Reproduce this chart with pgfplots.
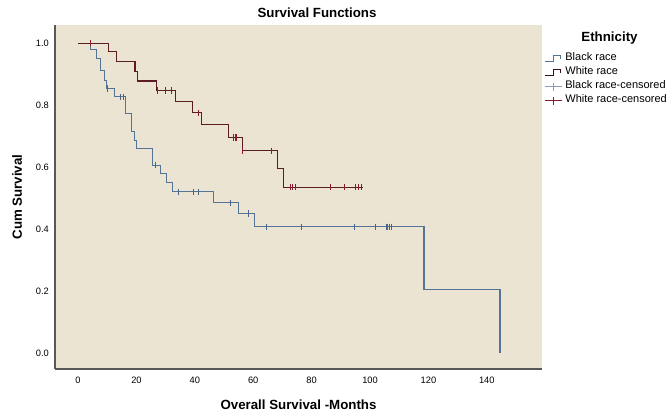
\documentclass[border=0pt]{standalone}
\usepackage{pgfplots}
\pgfplotsset{compat=1.18}
\usepackage{fontspec}
\setmainfont{Liberation Sans}

\definecolor{panel}{RGB}{236,228,211}
\definecolor{blackrace}{RGB}{84,116,150}
\definecolor{blackcens}{RGB}{72,100,138}
\definecolor{whiterace}{RGB}{92,28,36}
\definecolor{whitecens}{RGB}{140,26,46}
\definecolor{spine}{RGB}{88,88,88}

\begin{document}
\begin{tikzpicture}
\path[use as bounding box] (-55pt,-49pt) rectangle (617pt,369pt);
\begin{axis}[
    scale only axis,
    width=487pt, height=344pt,
    xmin=-7.9, xmax=158.9,
    ymin=-0.052, ymax=1.059,
    separate axis lines,
    axis x line*=bottom, axis y line*=left,
    axis line style={-, draw=spine, line width=1.3pt},
    axis background/.style={fill=panel},
    xtick={0,20,40,60,80,100,120,140},
    ytick={0,0.2,0.4,0.6,0.8,1.0},
    major tick length=0pt,
    tick style={draw=none},
    tick label style={font=\fontsize{9.3}{10}\selectfont},
    /pgf/number format/assume math mode=true,
    yticklabel style={inner sep=0pt, xshift=-6pt,
        /pgf/number format/.cd, fixed, fixed zerofill, precision=1},
    xticklabel style={inner sep=0pt, yshift=-7.5pt},
    legend style={at={(1.004,0.922)}, anchor=north west, draw=none, fill=none,
        font=\fontsize{11}{12}\selectfont, inner sep=0pt, row sep=0pt,
        nodes={inner sep=0.8pt, text height=8pt, text depth=4.3pt},
        /tikz/every odd column/.append style={column sep=2.5pt}},
    legend cell align=left,
]

% Black race
\addplot[const plot, blackrace, line width=1.1pt,
    legend image code/.code={\draw[blackrace, line width=1pt] (0pt,-3pt) -- (9pt,-3pt) -- (9pt,3pt) -- (16pt,3pt) -- (16pt,0pt);}]
    coordinates {
    (0,1.0)(4.3,0.98)(6.4,0.95)(7.8,0.913)(9.0,0.88)(9.8,0.854)(12.4,0.827)
    (16.4,0.773)(18.4,0.714)(19.3,0.687)(19.9,0.66)(25.5,0.606)(28.3,0.58)
    (30.4,0.549)(32.4,0.52)(46.3,0.485)(55.1,0.45)(60.3,0.407)(118.5,0.205)(144.5,0.0)
    };
\addlegendentry{Black race}

% White race
\addplot[const plot, whiterace, line width=1.1pt,
    legend image code/.code={\draw[whiterace!60!black, line width=1pt] (0pt,-3pt) -- (9pt,-3pt) -- (9pt,3pt) -- (16pt,3pt) -- (16pt,0pt);}]
    coordinates {
    (0,1.0)(10.3,0.972)(13.2,0.942)(19.5,0.908)(20.4,0.878)(26.8,0.848)(33.3,0.812)
    (39.3,0.775)(42.4,0.738)(51.5,0.696)(56.3,0.653)(68.3,0.596)(70.3,0.535)(97.5,0.535)
    };
\addlegendentry{White race}

% censored cases
\addplot[only marks, mark=|, mark size=3.2pt, blackcens, mark options={line width=0.9pt},
    legend image code/.code={\draw[blackrace!70!white, line width=0.9pt] (0pt,0pt) -- (17pt,0pt); \draw[blackrace!70!white, line width=0.9pt] (8.5pt,-4pt) -- (8.5pt,4pt);}]
    coordinates {
    (10.0,0.854)(14.6,0.827)(15.5,0.827)(26.6,0.606)(34.4,0.52)(39.5,0.52)(41.2,0.52)
    (52.3,0.485)(58.3,0.45)(64.4,0.407)(76.4,0.407)(94.5,0.407)(101.7,0.407)
    (105.5,0.407)(105.9,0.407)(106.6,0.407)(107.4,0.407)
    };
\addlegendentry{Black race-censored}

\addplot[only marks, mark=|, mark size=3.2pt, whitecens, mark options={line width=0.9pt},
    legend image code/.code={\draw[whitecens, line width=0.9pt] (0pt,0pt) -- (17pt,0pt); \draw[whitecens, line width=0.9pt] (8.5pt,-4pt) -- (8.5pt,4pt);}]
    coordinates {
    (4.3,1.0)(27.2,0.848)(30.1,0.848)(32.1,0.848)(41.2,0.775)(53.2,0.696)(53.8,0.696)
    (54.4,0.696)(56.3,0.653)(66.3,0.653)(72.6,0.535)(73.4,0.535)(74.3,0.535)(86.3,0.535)
    (91.2,0.535)(95.1,0.535)(96.0,0.535)(97.2,0.535)
    };
\addlegendentry{White race-censored}

\end{axis}
\node[font=\bfseries\fontsize{13.3}{15}\selectfont] at (262pt,356pt) {Survival Functions};
\node[font=\bfseries\fontsize{13.3}{15}\selectfont] at (243.5pt,-36pt) {Overall Survival -Months};
\node[font=\bfseries\fontsize{13.3}{15}\selectfont, rotate=90] at (-38pt,172pt) {Cum Survival};
\node[font=\bfseries\fontsize{13.3}{15}\selectfont] at (554.5pt,331pt) {Ethnicity};
\end{tikzpicture}
\end{document}
